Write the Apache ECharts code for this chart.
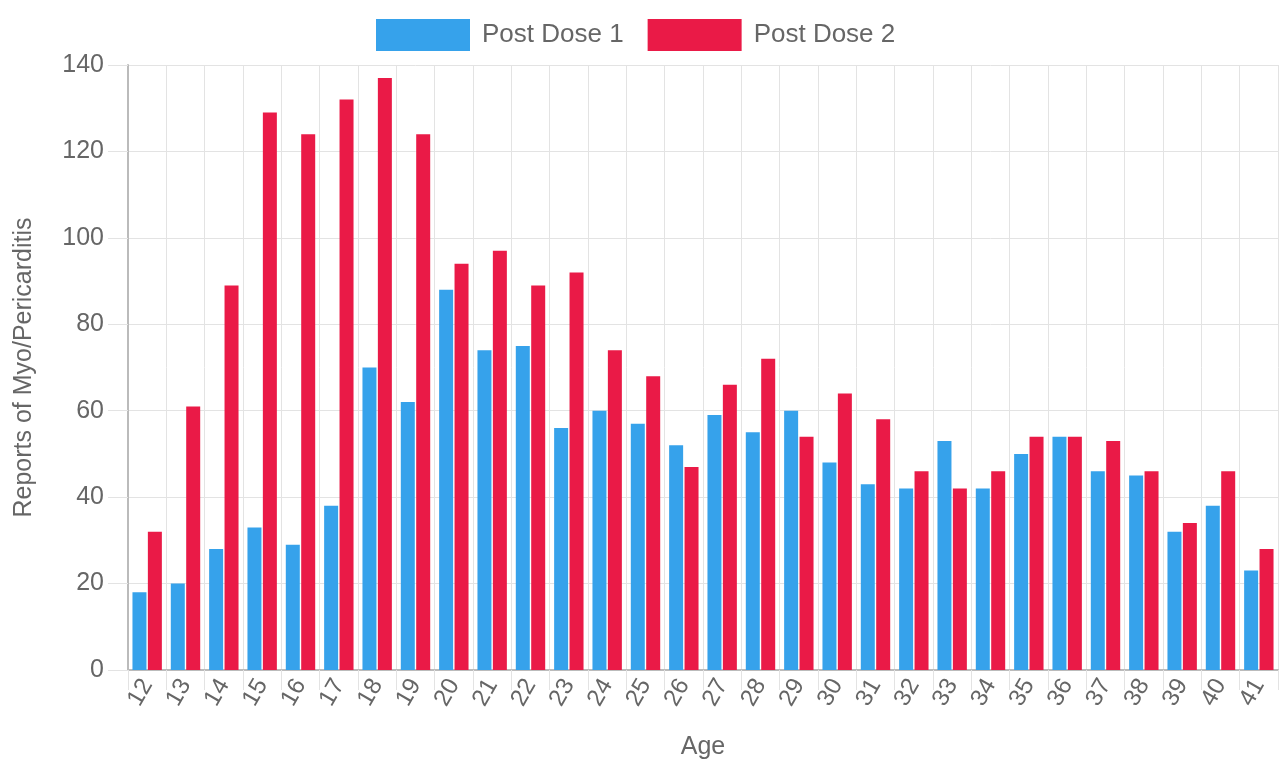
<!DOCTYPE html>
<html><head><meta charset="utf-8">
<script src="https://cdn.jsdelivr.net/npm/echarts@6/dist/echarts.min.js"></script>
<style>html,body{margin:0;padding:0;background:#fff}#c{width:1279px;height:760px}</style>
</head><body><div id="c"></div>
<script>
const ages = ['12','13','14','15','16','17','18','19','20','21','22','23','24','25','26','27','28','29','30','31','32','33','34','35','36','37','38','39','40','41'];
const postDose1 = [18,20,28,33,29,38,70,62,88,74,75,56,60,57,52,59,55,60,48,43,42,53,42,50,54,46,45,32,38,23];
const postDose2 = [32,61,89,129,124,132,137,124,94,97,89,92,74,68,47,66,72,54,64,58,46,42,46,54,54,53,46,34,46,28];
const yTicks = [0,20,40,60,80,100,120,140];

const font = 'Liberation Sans, Arial, sans-serif';
const chart = echarts.init(document.getElementById('c'));
chart.setOption({
  animation: false,
  textStyle: {fontFamily: font},
  legend: {
    top: 14, left: 371,
    icon: 'rect',
    itemWidth: 94, itemHeight: 32, itemGap: 24,
    textStyle: {fontSize: 26, color: '#666', fontFamily: font, padding: [0, 0, 0, 7]},
    data: ['Post Dose 1', 'Post Dose 2']
  },
  grid: {left: 128, right: 1, top: 65, bottom: 90, outerBoundsMode: 'none', containLabel: false},
  xAxis: {
    type: 'category', data: ages,
    name: 'Age', nameLocation: 'middle', nameGap: 77,
    nameTextStyle: {fontSize: 25, color: '#666', verticalAlign: 'middle'},
    axisLine: {show: true, lineStyle: {color: '#bbb', width: 2}},
    axisTick: {show: true, length: 20, lineStyle: {color: '#e3e3e3'}},
    axisLabel: {rotate: 60, fontSize: 24, color: '#666', margin: 11},
    splitLine: {show: true, lineStyle: {color: '#e3e3e3'}}
  },
  yAxis: {
    type: 'value', min: 0, max: 140, interval: 20,
    name: 'Reports of Myo/Pericarditis', nameLocation: 'middle', nameGap: 104,
    nameTextStyle: {fontSize: 25, color: '#666', verticalAlign: 'middle'},
    axisLine: {show: true, lineStyle: {color: '#bbb', width: 2}},
    axisTick: {show: true, length: 20, lineStyle: {color: '#e3e3e3'}},
    axisLabel: {fontSize: 25, color: '#666', margin: 24,
      formatter: v => yTicks.includes(v) ? String(v) : ''},
    splitLine: {show: true, lineStyle: {color: '#e3e3e3'}}
  },
  series: [
    {name: 'Post Dose 1', type: 'bar', data: postDose1, barWidth: 14, barGap: '10%',
     itemStyle: {color: '#36A2EB'}},
    {name: 'Post Dose 2', type: 'bar', data: postDose2, barWidth: 14,
     itemStyle: {color: '#EA1A47'}}
  ]
});
</script></body></html>
